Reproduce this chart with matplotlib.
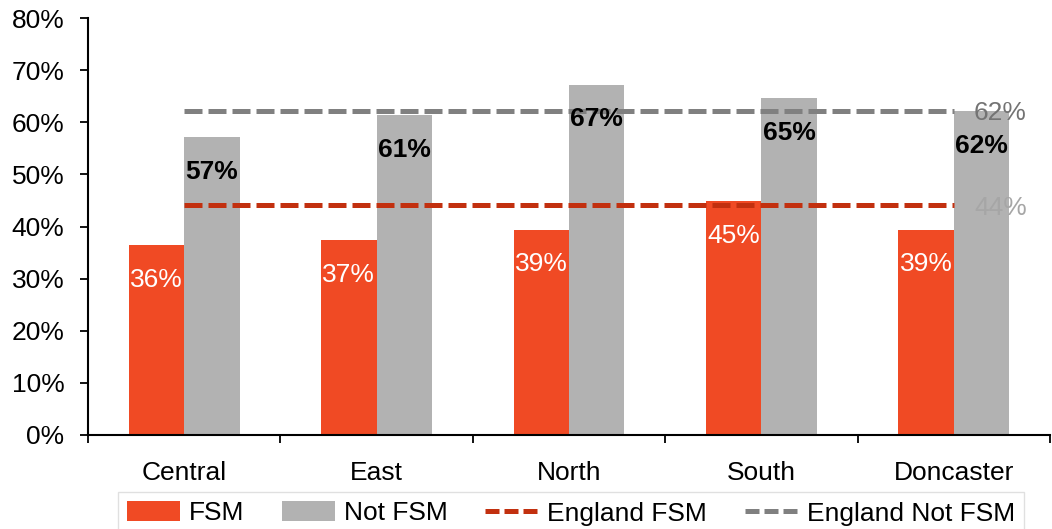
import matplotlib
matplotlib.use("Agg")
import matplotlib.pyplot as plt
import numpy as np
from matplotlib.lines import Line2D
from matplotlib.patches import Patch

plt.rcParams['font.family'] = ['Liberation Sans', 'DejaVu Sans']

categories = ["Central", "East", "North", "South", "Doncaster"]
fsm = [36.4, 37.4, 39.4, 44.8, 39.4]
not_fsm = [57.2, 61.4, 67.2, 64.6, 62.2]
fsm_labels = ["36%", "37%", "39%", "45%", "39%"]
not_fsm_labels = ["57%", "61%", "67%", "65%", "62%"]
england_fsm = 44.1
england_not_fsm = 62.2
y_ticks = [0, 10, 20, 30, 40, 50, 60, 70, 80]

c_fsm = "#F04A24"
c_not = "#B2B2B2"
c_eng_fsm = "#C2300F"
c_eng_not = "#808080"

fig = plt.figure(figsize=(10.52, 5.29), dpi=100)
ax = fig.add_axes([88/1052, 94/529, 962/1052, 417/529])

x = np.arange(len(categories))
w = 0.288
ax.bar(x - w/2, fsm, width=w, color=c_fsm, zorder=2)
ax.bar(x + w/2, not_fsm, width=w, color=c_not, zorder=2)

dash = (3.6, 1.2)
ax.plot([x[0], x[-1]], [england_not_fsm]*2, color=c_eng_not, lw=3.6,
        linestyle=(0, dash), dash_capstyle='butt', zorder=3)
ax.plot([x[0], x[-1]], [england_fsm]*2, color=c_eng_fsm, lw=3.6,
        linestyle=(0, dash), dash_capstyle='butt', zorder=3)

fs = 19
for i in range(len(categories)):
    ax.annotate(fsm_labels[i], (x[i] - w/2, fsm[i]), xytext=(0, -25),
                textcoords='offset points', ha='center', va='center',
                color='white', fontsize=fs, zorder=4)
    ax.annotate(not_fsm_labels[i], (x[i] + w/2, not_fsm[i]), xytext=(0, -25),
                textcoords='offset points', ha='center', va='center',
                color='black', fontsize=fs, fontweight='bold', zorder=4)

ax.text(x[-1] + 0.105, england_not_fsm - 0.5, "62%", color="#737373",
        fontsize=fs, ha='left', va='center', zorder=5)
ax.text(x[-1] + 0.105, england_fsm - 0.5, "44%", color="#A6A6A6",
        fontsize=fs, ha='left', va='center', zorder=5)

ax.set_xlim(-0.5, len(categories) - 0.5)
ax.set_ylim(0, 80)
ax.set_yticks(y_ticks)
ax.set_yticklabels([f"{v}%" for v in y_ticks], fontsize=fs)
ax.set_xticks(np.arange(-0.5, len(categories), 1.0))
ax.set_xticklabels([])
ax.set_xticks(x, minor=True)
ax.set_xticklabels(categories, minor=True, fontsize=fs)
ax.tick_params(axis='x', which='minor', length=0, pad=19)
ax.tick_params(axis='x', which='major', length=6, width=1.3, direction='out')
ax.tick_params(axis='y', length=6, width=1.3, direction='out', pad=11)

for s in ['top', 'right']:
    ax.spines[s].set_visible(False)
for s in ['left', 'bottom']:
    ax.spines[s].set_linewidth(1.5)

handles = [
    Patch(facecolor=c_fsm, label="FSM"),
    Patch(facecolor=c_not, label="Not FSM"),
    Line2D([0], [0], color=c_eng_fsm, lw=3.6, linestyle=(0, (2.8, 1.0)),
           dash_capstyle='butt', label="England FSM"),
    Line2D([0], [0], color=c_eng_not, lw=3.6, linestyle=(0, (2.8, 1.0)),
           dash_capstyle='butt', label="England Not FSM"),
]
leg = fig.legend(handles=handles, loc='upper left', bbox_to_anchor=(118/1052, 1 - 492/529),
                 ncol=4, fontsize=fs, frameon=True, fancybox=False,
                 handlelength=2.0, handleheight=0.8, handletextpad=0.35,
                 columnspacing=1.42, borderpad=0.35, borderaxespad=0)
leg.get_frame().set_edgecolor("#D9D9D9")
leg.get_frame().set_linewidth(1.0)

fig.savefig("out.png", dpi=100)
